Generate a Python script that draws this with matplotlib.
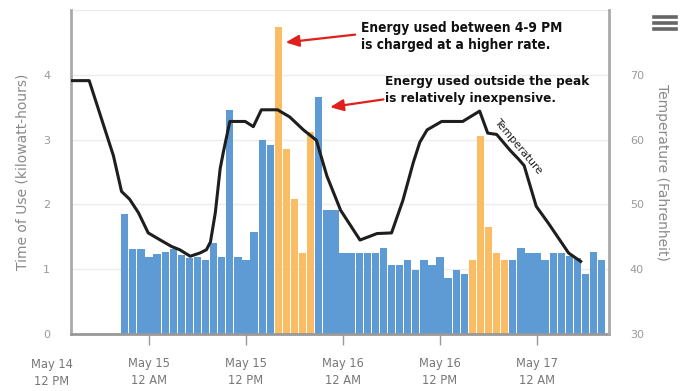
import matplotlib
matplotlib.use("Agg")
import matplotlib.pyplot as plt
import matplotlib.font_manager as fm
from matplotlib.font_manager import FontProperties
from matplotlib.lines import Line2D

# ---------------- data ----------------
# hours relative to May 15, 12 AM
bar_hours = list(range(-3, 57))
usage_kwh = [1.85, 1.31, 1.31, 1.19, 1.24, 1.27, 1.31, 1.22, 1.17, 1.19,
             1.14, 1.40, 1.19, 3.45, 1.19, 1.14, 1.58, 3.00, 2.92, 4.74,
             2.86, 2.08, 1.25, 3.12, 3.65, 1.92, 1.92, 1.25, 1.25, 1.25,
             1.25, 1.25, 1.32, 1.07, 1.07, 1.14, 0.98, 1.14, 1.07, 1.19,
             0.86, 0.99, 0.92, 1.14, 3.05, 1.65, 1.25, 1.14, 1.14, 1.32,
             1.25, 1.25, 1.14, 1.25, 1.25, 1.20, 1.17, 0.93, 1.26, 1.14]
peak_hours = [16, 17, 18, 19, 20, 40, 41, 42, 43, 44]

temp_hours = [-9.7, -7.4, -4.4, -3.4, -2.4, -1.3, -0.1, 1.4, 2.8, 3.8, 5.1,
              6.3, 7.1, 7.6, 8.2, 8.8, 9.2, 10.0, 11.9, 12.9, 13.9, 15.9,
              17.4, 19.1, 20.7, 22.0, 23.7, 26.1, 28.2, 30.0, 31.4, 32.7,
              33.5, 34.4, 36.2, 38.8, 40.9, 41.9, 43.0, 44.7, 45.7, 46.4,
              47.9, 49.4, 51.9, 53.4]
temp_f = [69.1, 69.1, 57.5, 52.0, 50.8, 48.7, 45.6, 44.5, 43.5, 43.0, 42.0,
          42.5, 43.0, 44.2, 48.7, 55.5, 58.1, 62.8, 62.8, 62.0, 64.6, 64.6,
          63.5, 61.5, 59.9, 54.4, 49.1, 44.5, 45.5, 45.6, 50.6, 56.5,
          59.6, 61.5, 62.8, 62.8, 64.4, 61.0, 60.8, 58.3, 57.0, 56.0,
          49.7, 47.1, 42.5, 41.2]

xtick_hours = [-12, 0, 12, 24, 36, 48]
xtick_labels = ["May 14\n12 PM", "May 15\n12 AM", "May 15\n12 PM",
                "May 16\n12 AM", "May 16\n12 PM", "May 17\n12 AM"]
kwh_ticks = [0, 1, 2, 3, 4]
temp_ticks = [30, 40, 50, 60, 70]

note_peak = "Energy used between 4-9 PM\nis charged at a higher rate."
note_offpeak = "Energy used outside the peak\nis relatively inexpensive."

# ---------------- style ----------------
BLUE = "#5e9bd5"
ORANGE = "#fbbd63"
GRAY_AX = "#aaaaaa"
W, H = 686, 391


def pick_condensed_bold():
    cands = []
    for f in fm.fontManager.ttflist:
        fn = f.fname.lower()
        nm = f.name.lower()
        w = f.weight
        bold = (isinstance(w, int) and w >= 600) or (
            isinstance(w, str) and w in ("bold", "heavy", "black", "extra bold",
                                         "semibold", "demibold", "demi"))
        cond = ("condensed" in str(f.stretch)) or ("narrow" in nm) or \
               ("condensed" in nm) or ("narrow" in fn) or ("condensed" in fn)
        if bold and cond and f.style == "normal" and "italic" not in fn:
            score = 0
            if "extra" in str(f.stretch) or "ultra" in str(f.stretch):
                score += 2
            if "semi" in str(f.stretch):
                score += 1
            if "mono" in nm:
                score += 5
            cands.append((score, f.fname))
    if cands:
        cands.sort()
        return FontProperties(fname=cands[0][1]), True
    return FontProperties(family=["Liberation Sans", "DejaVu Sans"],
                          weight="bold"), False


fig = plt.figure(figsize=(W / 100, H / 100), dpi=100)
ax = fig.add_axes([71 / W, 1 - 334 / H, (609 - 71) / W, (334 - 10) / H])

colors = [ORANGE if h in peak_hours else BLUE for h in bar_hours]
ax.bar(bar_hours, usage_kwh, width=0.9, color=colors, linewidth=0, zorder=2)

ax.set_xlim(-9.65, 56.9)
ax.set_ylim(0, 5)
ax.set_yticks(kwh_ticks)
ax.set_yticklabels([str(t) for t in kwh_ticks])
ax.yaxis.grid(True, color="#ececec", linewidth=1, zorder=0)
ax.axhline(5, color="#ececec", linewidth=1, zorder=0)
ax.set_axisbelow(True)

visible = [(h, l) for h, l in zip(xtick_hours, xtick_labels) if h >= -9.65]
ax.set_xticks([h for h, _ in visible])
ax.set_xticklabels([l for _, l in visible], linespacing=1.45)
for h, l in zip(xtick_hours, xtick_labels):
    if h < -9.65:
        ax.text(h, -0.37, l, ha="center", va="top", fontsize=8.3,
                color="#777777", linespacing=1.45, clip_on=False)
ax.tick_params(axis="x", length=8, width=1, color="#999999", pad=8.5,
               labelsize=8.3, labelcolor="#777777")
ax.tick_params(axis="y", length=0, pad=15, labelsize=8, labelcolor="#999999")

for s in ["top", "right"]:
    ax.spines[s].set_visible(False)
ax.spines["left"].set_color(GRAY_AX)
ax.spines["left"].set_linewidth(2)
ax.spines["bottom"].set_color("#999999")
ax.spines["bottom"].set_linewidth(2)

ax.set_ylabel("Time of Use (kilowatt-hours)", fontsize=10, color="#8a8a8a",
              labelpad=10)

ax2 = ax.twinx()
ax2.set_ylim(30, 80)
ax2.set_yticks(temp_ticks)
ax2.set_yticklabels([str(t) for t in temp_ticks])
ax2.tick_params(axis="y", length=0, pad=15, labelsize=8, labelcolor="#999999")
for s in ["top", "left", "bottom"]:
    ax2.spines[s].set_visible(False)
ax2.spines["right"].set_color(GRAY_AX)
ax2.spines["right"].set_linewidth(2)
ax2.plot(temp_hours, temp_f, color="#1e1e1e", linewidth=2.2, zorder=3,
         solid_joinstyle="round")
ax2.set_ylabel("Temperature (Fahrenheit)", fontsize=10, color="#8a8a8a",
               rotation=-90, labelpad=18)

# ---------------- notes (condensed bold, fitted to the reference width) ----
fp, is_condensed = pick_condensed_bold()
renderer = fig.canvas.get_renderer()
grow = 1.0 if is_condensed else 1.08


def fitted_size(text, target_px, max_pt=14.5):
    t = fig.text(0, 0, text, fontproperties=fp, fontsize=20)
    wpx = t.get_window_extent(renderer=renderer).width
    t.remove()
    return min(max_pt, grow * 20 * target_px / wpx)


size1 = fitted_size(note_peak.split("\n")[0], 202)
size2 = fitted_size(note_offpeak.split("\n")[0], 204)
for i, line in enumerate(note_peak.split("\n")):
    fig.text(361 / W, 1 - (31.7 + 17.5 * i) / H, line, ha="left",
             va="baseline", fontproperties=fp, fontsize=size1, color="#111111")
for i, line in enumerate(note_offpeak.split("\n")):
    fig.text(385 / W, 1 - (85.5 + 16.5 * i) / H, line, ha="left",
             va="baseline", fontproperties=fp, fontsize=size2, color="#111111")

ax.annotate("", xy=(16.9, 4.5), xytext=(25.5, 4.62),
            arrowprops=dict(arrowstyle="-|>,head_length=0.8,head_width=0.35",
                            color="#e0201c", lw=1.6, shrinkA=0, shrinkB=0))
ax.annotate("", xy=(22.4, 3.5), xytext=(29.0, 3.62),
            arrowprops=dict(arrowstyle="-|>,head_length=0.8,head_width=0.35",
                            color="#e0201c", lw=1.6, shrinkA=0, shrinkB=0))

ax2.text(43.4, 63.6, "Temperature", rotation=-50, rotation_mode="anchor",
         fontsize=7.8, ha="left", va="top", color="#222222")

# menu icon
for yy in [16.7, 22.7, 28.7]:
    fig.add_artist(Line2D([654 / W, 676 / W], [1 - yy / H, 1 - yy / H],
                          color="#666666", linewidth=2.6))

fig.savefig("out.png", dpi=100)
